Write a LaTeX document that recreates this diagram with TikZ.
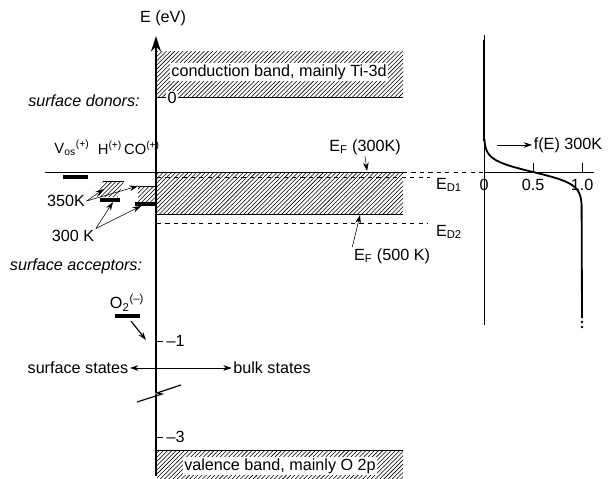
\documentclass[tikz,border=0pt]{standalone}
\usepackage{fontspec}
\setmainfont{Liberation Sans}
\usetikzlibrary{patterns,arrows.meta}

\begin{document}
\begin{tikzpicture}[>={Stealth[length=6pt,width=4pt]}, x=0.025cm, y=-0.025cm,
  font=\fontsize{11.5}{13}\selectfont]
\tikzset{hatch/.style={pattern=north east lines},
  level/.style={line width=2.4pt},
  lbl/.style={inner sep=1pt},
  species/.style={inner sep=0pt, font=\fontsize{10.5}{12}\selectfont},
  slant/.style={inner sep=1pt, font=\fontsize{11.5}{13}\selectfont\itshape}}
\useasboundingbox (0,0) rectangle (612,479);

% bands
\fill[hatch] (157,52) rectangle (403,97);
\draw (157,97) -- (403,97);
\fill[hatch] (157,172) rectangle (403,214);
\draw (45,172) -- (403,172);
\draw (157,214) -- (403,214);
\fill[hatch] (157,450) rectangle (403,479);
\draw (157,450) -- (403,450);

\node[lbl, fill=white] (cb) at (279,72) {conduction band, mainly Ti-3d};
\node[lbl, fill=white] (vb) at (280,466) {valence band, mainly O 2p};
\node[lbl, fill=white] (zero) at (172,98) {0};

% donor levels
\draw[dashed] (157,177) -- (430,177);
\draw[dashed] (403,172) -- (484,172);
\draw[dashed] (157,223) -- (428,223);
\node[lbl] (ed1) at (449,185) {E\textsubscript{D1}};
\node[lbl] (ed2) at (449,232) {E\textsubscript{D2}};

\node[lbl] (ef300) at (365,147) {E\textsubscript{F} (300K)};
\coordinate (ef300tip) at (367,171);
\draw[->] (ef300.south) -- (ef300tip);
\node[lbl] (ef500) at (392,256) {E\textsubscript{F} (500 K)};
\coordinate (ef500tip) at (360,215);
\draw[->] (ef500.north west) -- (ef500tip);

% energy axis
\draw[line width=2pt, -{Stealth[length=11pt,width=7pt]}] (156,476) -- (156,36);
\node[lbl] (eaxis) at (163,18) {E (eV)};
\coordinate (m1) at (157,341);
\coordinate (m3) at (157,437);
\draw (m1) -- ++(6,0);
\draw (m3) -- ++(6,0);
\node[lbl, anchor=west] (l1) at (165,341) {–1};
\node[lbl, anchor=west] (l3) at (165,437) {–3};
\fill[white] (150,387) rectangle (162,397);
\draw[line width=0.8pt] (181,385) -- (157,393) -- (162,394) -- (137,402);
\draw[line width=2pt] (156,385) -- (156,393);
\draw[line width=2pt] (156,394) -- (156,402);

% surface states
\node[slant] (donors) at (84,101) {surface donors:};
\node[slant] (acceptors) at (76,266) {surface acceptors:};
\node[species] (vos) at (72,148) {V\textsubscript{os}\textsuperscript{(+)}};
\node[species] (hyd) at (110,148) {H\textsuperscript{(+)}};
\node[species] (co) at (142,148) {CO\textsuperscript{(+)}};
\draw[level] (63,177) -- (88,177);
\fill[hatch] (103,181) -- (124,181) -- (118,197) -- (97,197) -- cycle;
\draw (103,181) -- (124,181);
\draw[level] (100,200) -- (120,200);
\fill[hatch] (138,186) rectangle (156,203);
\draw (138,186) -- (156,186);
\draw[level] (135,204) -- (155,204);

\node[lbl] (k350) at (66,201) {350K};
\coordinate (h350) at (104,189);
\coordinate (co350) at (138,186);
\draw[->] (k350.east) -- (h350);
\draw[->] (k350.east) -- (co350);
\node[lbl] (k300) at (73,236) {300 K};
\coordinate (h300) at (113,202);
\coordinate (co300) at (141,206);
\draw[->] (k300.north east) -- (h300);
\draw[->] (k300.north east) -- (co300);

\node[lbl] (o2) at (127,303) {O\textsubscript{2}\textsuperscript{(–)}};
\draw[level] (115,316) -- (140,316);
\coordinate (o2start) at (131,321);
\coordinate (o2tip) at (146,340);
\draw[thick, ->] (o2start) -- (o2tip);

\node[lbl] (surf) at (78,368) {surface states};
\node[lbl] (bulk) at (272,368) {bulk states};
\draw[<->] (surf.east) -- (bulk.west);

% occupation f(E)
\draw (484,35) -- (484,325);
\draw (484,172) -- (594,172);
\draw (533,163) -- (533,172);
\draw (582,163) -- (582,172);
\node[lbl] (f0) at (484,185) {0};
\node[lbl] (f05) at (533,185) {0.5};
\node[lbl] (f10) at (582,185) {1.0};
\draw[line width=1.3pt] (484,40) -- (484,140)
  -- plot[domain=140:205, samples=60] ({484+98/(1+exp(-(\x-172)/6))}, \x)
  -- (582,318);
\fill (582,322) circle (0.9pt);
\fill (582,327) circle (0.9pt);
\node[lbl] (fe) at (568,145) {f(E) 300K};
\coordinate (festart) at (497,145);
\draw[->] (festart) -- (fe.west);
\end{tikzpicture}
\end{document}
